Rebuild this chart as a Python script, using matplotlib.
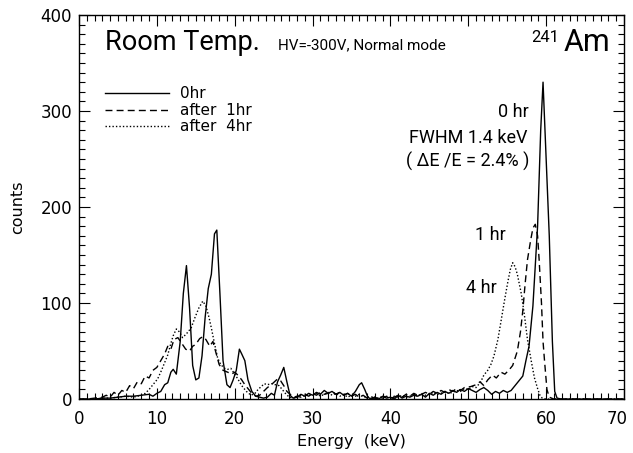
import numpy as np
import matplotlib
matplotlib.use("Agg")
import matplotlib.pyplot as plt
import matplotlib.transforms as mtransforms
from matplotlib.ticker import MultipleLocator

# ---- 0 hr (solid) ----
e_0hr = [0, 1, 2, 3, 4, 5, 6, 7, 8, 9, 9.5, 10, 10.5, 11, 11.4, 11.8, 12.1, 12.5, 13, 13.4,
         13.8, 14.2, 14.6, 15.0, 15.4, 15.8, 16.2, 16.6, 17.0, 17.4, 17.7, 18.1, 18.5, 19.0,
         19.4, 19.8, 20.2, 20.6, 20.9, 21.3, 21.7, 22.2, 22.7, 23.2, 23.7, 24.2, 24.7, 25.1,
         25.5, 25.9, 26.3, 26.7, 27.1, 27.5, 28, 28.5, 29, 29.5, 30, 30.5, 31, 31.5, 32, 32.5,
         33, 33.5, 34, 34.5, 35, 35.5, 36, 36.3, 36.7, 37.1, 37.5, 38, 38.5, 39, 39.5, 40,
         40.5, 41, 41.5, 42, 42.5, 43, 43.5, 44, 44.5, 45, 45.5, 46, 46.5, 47, 47.5, 48, 48.5,
         49, 49.5, 50, 50.5, 51, 51.5, 52, 52.5, 53, 53.5, 54, 54.5, 55, 55.5, 56, 56.5, 57,
         57.4, 57.8, 58.3, 58.9, 59.3, 59.6, 60.0, 60.4, 60.8, 61.1, 61.4, 62, 70]
c_0hr = [0, 0, 0, 1, 1, 2, 3, 3, 4, 5, 3, 6, 8, 15, 17, 28, 31, 26, 60, 110,
         139, 95, 35, 20, 22, 45, 85, 115, 130, 172, 176, 110, 40, 15,
         12, 20, 30, 52, 47, 40, 20, 8, 3, 2, 1, 2, 6, 4,
         18, 25, 33, 18, 4, 1, 2, 5, 3, 6, 4, 7, 5, 9, 6, 8,
         5, 7, 4, 6, 3, 8, 15, 17, 10, 2, 0, 2, 0, 3, 1, 2,
         0, 4, 1, 3, 2, 4, 3, 5, 2, 6, 4, 7, 5, 8, 6, 9, 7,
         10, 8, 11, 9, 7, 10, 12, 9, 5, 8, 6, 9, 7, 9, 14, 19, 24,
         40, 55, 97, 180, 280, 330, 250, 170, 60, 8, 1, 0, 0]

# ---- after 1 hr (dashed) ----
e_1hr = [0, 1, 2, 3, 3.5, 4, 4.5, 5, 5.5, 6, 6.5, 7, 7.5, 8, 8.5, 9, 9.5, 10, 10.5, 11,
         11.4, 11.8, 12.2, 12.7, 13.2, 13.7, 14.2, 14.6, 15.0, 15.5, 15.9, 16.3, 16.8, 17.2,
         17.6, 18.0, 18.5, 19.1, 19.6, 20.0, 20.4, 20.9, 21.3, 21.7, 22.2, 22.7, 23.2, 23.7,
         24.2, 24.7, 25.1, 25.5, 25.9, 26.3, 26.7, 27.1, 27.6, 28, 28.5, 29, 29.5, 30, 30.5,
         31, 31.5, 32, 32.5, 33, 33.5, 34, 34.5, 35, 35.5, 36, 36.5, 37, 37.5, 38, 38.5, 39,
         39.5, 40, 40.5, 41, 41.5, 42, 42.5, 43, 43.5, 44, 44.5, 45, 45.5, 46, 46.5, 47,
         47.5, 48, 48.5, 49, 49.5, 50.3, 51, 51.5, 52, 52.5, 53.1, 53.6, 54.2, 54.7, 55.2,
         55.7, 56.3, 56.7, 57.0, 57.3, 57.6, 58.0, 58.3, 58.6, 58.9, 59.1, 59.4, 59.6, 59.8,
         60.1, 60.4, 61, 70]
c_1hr = [0, 0, 1, 2, 4, 2, 7, 4, 9, 7, 14, 11, 18, 16, 24, 22, 30, 33, 40, 47,
         55, 52, 62, 64, 58, 52, 50, 55, 57, 63, 65, 62, 55, 60,
         48, 36, 30, 28, 26, 28, 25, 20, 15, 11, 6, 3, 4, 8,
         12, 15, 18, 21, 19, 14, 8, 5, 2, 3, 2, 5, 3, 6, 4,
         7, 5, 6, 8, 5, 7, 4, 6, 3, 5, 2, 4, 1, 3, 0, 2, 1,
         3, 1, 2, 4, 2, 5, 3, 6, 4, 5, 7, 5, 8, 6, 9, 7,
         10, 8, 11, 9, 12, 13, 15, 18, 14, 20, 25, 22, 28, 26, 30,
         35, 50, 70, 92, 120, 145, 165, 178, 182, 170, 145, 100, 60, 39,
         10, 2, 0, 0]

# ---- after 4 hr (dotted) ----
e_4hr = [0, 1, 2, 3, 4, 5, 6, 7, 8, 8.5, 9, 9.5, 10.1, 10.6, 11.0, 11.4, 11.8, 12.1, 12.5,
         12.9, 13.3, 13.8, 14.4, 14.9, 15.4, 15.9, 16.3, 16.7, 17.0, 17.4, 17.8, 18.2, 18.7,
         19.1, 19.5, 20.0, 20.4, 20.9, 21.5, 22.1, 22.6, 23.0, 23.4, 23.8, 24.2, 24.7, 25.2,
         25.7, 26.1, 26.5, 27.0, 27.5, 28, 28.5, 29, 29.5, 30, 30.5, 31, 31.5, 32, 32.5, 33,
         33.5, 34, 34.5, 35, 35.5, 36, 36.5, 37, 37.5, 38, 38.5, 39, 39.5, 40, 40.5, 41,
         41.5, 42, 42.5, 43, 43.5, 44, 44.5, 45, 45.5, 46, 46.5, 47, 47.5, 48, 48.5, 49,
         49.5, 50, 50.5, 51, 51.6, 52.0, 52.5, 52.9, 53.3, 53.8, 54.2, 54.7, 55.1, 55.4, 55.7,
         56.0, 56.3, 56.8, 57.2, 57.6, 58.1, 58.5, 58.9, 59.2, 59.5, 60, 70]
c_4hr = [0, 0, 0, 1, 1, 2, 3, 2, 4, 6, 10, 15, 21, 30, 38, 46, 58, 66, 73,
         70, 64, 68, 74, 85, 95, 102, 97, 85, 74, 58, 43, 36, 32,
         31, 32, 26, 21, 14, 8, 4, 6, 10, 13, 16, 15, 16, 15,
         14, 10, 6, 2, 1, 2, 4, 3, 5, 4, 6, 3, 5, 7, 4, 6,
         3, 5, 2, 4, 3, 5, 2, 3, 1, 2, 1, 3, 2, 1, 3, 2,
         4, 2, 3, 5, 3, 6, 4, 5, 7, 5, 6, 8, 6, 7, 9, 8,
         11, 10, 13, 12, 18, 25, 30, 36, 45, 62, 81, 105, 123, 135, 142,
         138, 130, 110, 88, 62, 39, 22, 11, 4, 1, 0, 0]

legend_labels = ["0hr", "after  1hr", "after  4hr"]

fig = plt.figure(figsize=(6.33, 4.53), dpi=100)
ax = fig.add_axes([0.1248, 0.119, 0.861, 0.848])

ax.plot(e_0hr, c_0hr, color="black", lw=1.0, ls="-", label=legend_labels[0])
ax.plot(e_1hr, c_1hr, color="black", lw=1.0, ls=(0, (5, 3)), label=legend_labels[1])
ax.plot(e_4hr, c_4hr, color="black", lw=1.0, ls=(0, (1, 1.5)), label=legend_labels[2])

ax.set_xlim(0, 70)
ax.set_ylim(0, 400)
ax.xaxis.set_major_locator(MultipleLocator(10))
ax.xaxis.set_minor_locator(MultipleLocator(1))
ax.yaxis.set_major_locator(MultipleLocator(100))
ax.yaxis.set_minor_locator(MultipleLocator(10))
ax.tick_params(which="both", direction="in", top=True, right=True, labelsize=12)
ax.tick_params(which="major", length=8, width=0.8)
ax.tick_params(which="minor", length=4, width=0.8)
ax.tick_params(axis="x", pad=8)
ax.tick_params(axis="y", pad=5)
for s in ax.spines.values():
    s.set_linewidth(1.0)

ax.set_xlabel("Energy  (keV)", fontsize=11.5, labelpad=4)
ax.set_ylabel("counts", fontsize=11.5, labelpad=11)

leg = ax.legend(loc="upper left", bbox_to_anchor=(0.048, 0.814), frameon=False,
                fontsize=11, handlelength=4.2, handletextpad=0.7, labelspacing=0.1,
                borderaxespad=0, borderpad=0)

tf = "Roboto"
ax.text(3.3, 364, "Room Temp.", fontsize=19.5, family=tf, va="baseline")
ax.text(25.5, 364, "HV=-300V, Normal mode", fontsize=11, family=tf, va="baseline")
ax.text(61.7, 372, "241", fontsize=12, family=tf, va="baseline", ha="right")
ax.text(68.2, 362, "Am", fontsize=22, family=tf, va="baseline", ha="right")

ax.text(57.8, 299, "0 hr", fontsize=13, family=tf, ha="right", va="center")
ax.text(57.6, 272, "FWHM 1.4 keV", fontsize=13, family=tf, ha="right", va="center")
ax.text(57.8, 248, "( \u0394E /E = 2.4% )", fontsize=13, family=tf, ha="right", va="center")
ax.text(54.8, 171, "1 hr", fontsize=13, family=tf, ha="right", va="center")
ax.text(53.6, 116, "4 hr", fontsize=13, family=tf, ha="right", va="center")

# nudge the last x label ("70") so it stays inside the picture
fig.canvas.draw()
for t in ax.xaxis.get_major_ticks():
    if abs(t.get_loc() - 70) < 1e-6:
        t.label1.set_transform(t.label1.get_transform() +
                               mtransforms.ScaledTranslation(-5 / 72, 0, fig.dpi_scale_trans))

fig.savefig("out.png", dpi=100)
